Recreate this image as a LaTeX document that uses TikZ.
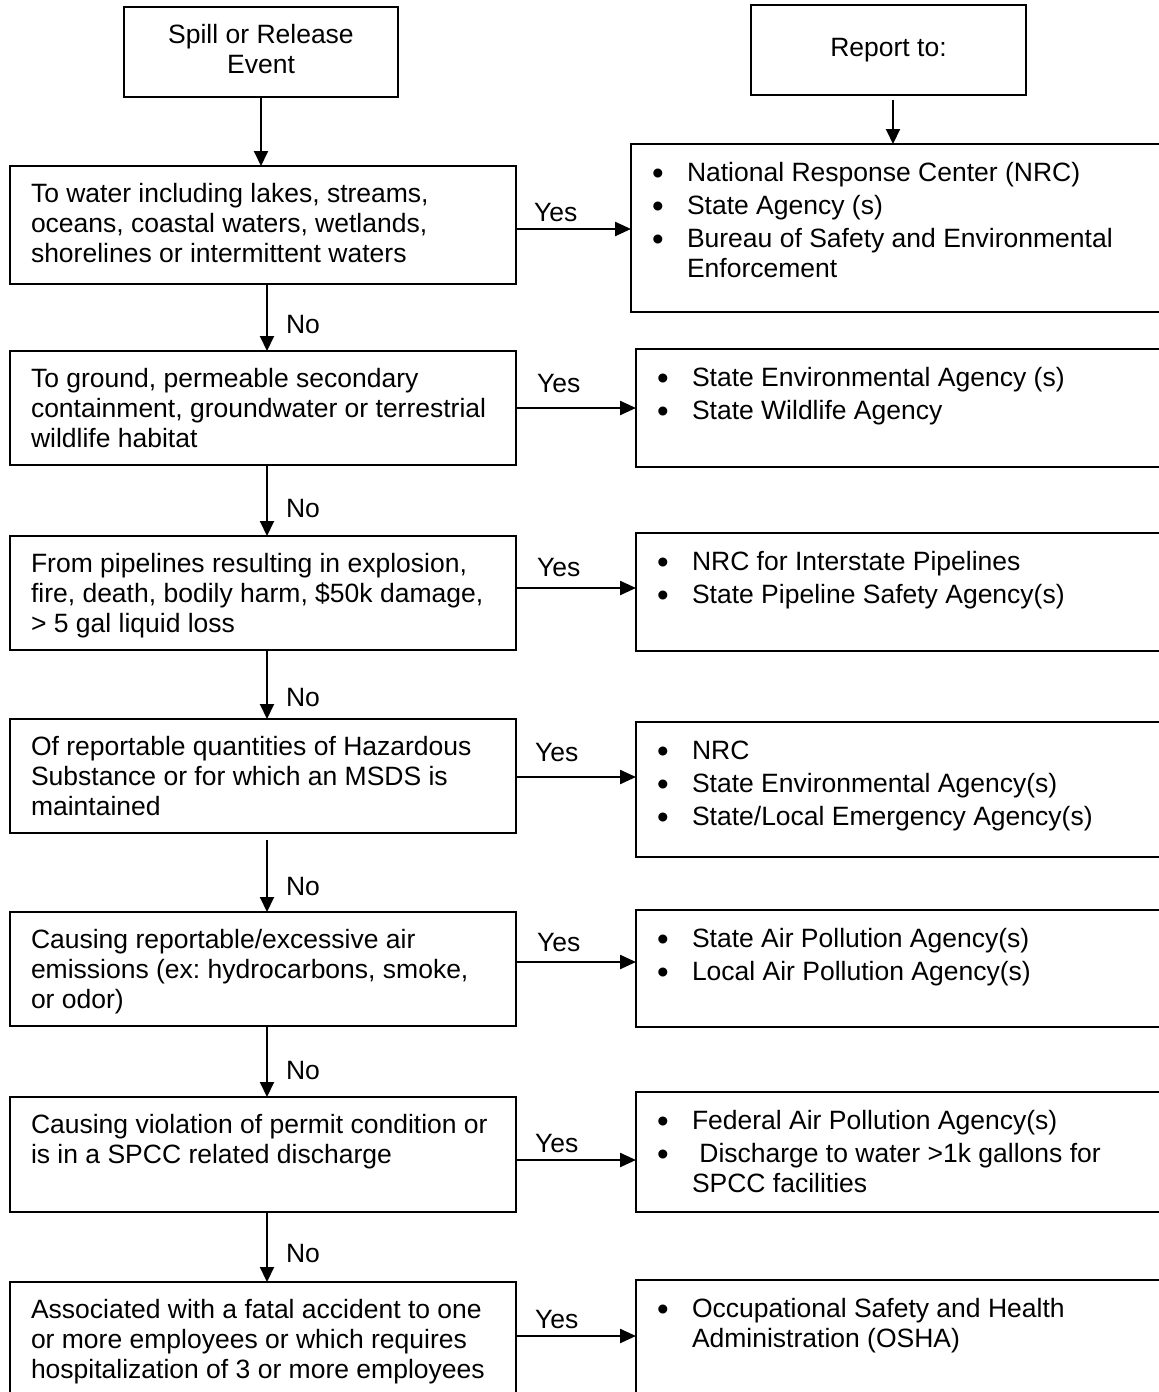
\documentclass[tikz,border=0pt]{standalone}
\usepackage{fontspec}
\setmainfont{Liberation Sans}
\usetikzlibrary{arrows.meta}
\frenchspacing

% body of a question box: fixed height, text hung from the top
\newcommand\qbody[2]{\parbox[t][#1pt][t]{506pt}{\vspace*{15pt}\leftskip=21pt\rightskip=0pt plus 1fil\hbadness=10000\strut #2\par}}
% body of a reporting box: a bulleted list with hanging lines
\newcommand\rbody[2]{\parbox[t][#1pt][t]{540pt}{\vspace*{13pt}\leftskip=21pt\rightskip=0pt plus 1fil\hbadness=10000 #2\par}}
\newcommand\blt{\par\vspace{3pt}\hangindent=35pt\hangafter=1\noindent\strut\makebox[35pt][l]{\raisebox{-3.5pt}{\scalebox{1.25}{\textbullet}}}}

\tikzset{
  txt/.style={font=\fontsize{26.5}{30}\selectfont},
  frame/.style={txt, draw, line width=2pt, inner sep=0pt, outer sep=0pt, anchor=north west},
  head/.style={frame, align=center},
  flow/.style={line width=2pt, -{Triangle[length=15pt,width=14pt]}},
  yesflow/.style={line width=2.4pt, -{Triangle[length=16pt,width=14pt]}},
  lbl/.style={txt, inner sep=0pt, anchor=base west},
}

\begin{document}
\begin{tikzpicture}[x=1pt,y=-1pt]
\useasboundingbox (0,0) rectangle (1159,1392);
\clip (0,0) rectangle (1159,1392);

% headings
\node[head, minimum width=274pt, minimum height=90pt] (spill) at (124,7) {Spill or Release\\Event\\[-24pt]};
\node[head, minimum width=275pt, minimum height=90pt] (report) at (751,5) {Report to:};

% questions
\node[frame] (q1) at (10,166)  {\qbody{118}{To water including lakes, streams,\\oceans, coastal waters, wetlands,\\shorelines or intermittent waters}};
\node[frame] (q2) at (10,351)  {\qbody{114}{To ground, permeable secondary\\containment, groundwater or terrestrial\\wildlife habitat}};
\node[frame] (q3) at (10,536)  {\qbody{114}{From pipelines resulting in explosion,\\fire, death, bodily harm, \$50k damage,\\> 5 gal liquid loss}};
\node[frame] (q4) at (10,719)  {\qbody{114}{Of reportable quantities of Hazardous\\Substance or for which an MSDS is\\maintained}};
\node[frame] (q5) at (10,912)  {\qbody{114}{Causing reportable/excessive air\\emissions (ex: hydrocarbons, smoke,\\or odor)}};
\node[frame] (q6) at (10,1097) {\qbody{115}{Causing violation of permit condition or\\is in a SPCC related discharge}};
\node[frame] (q7) at (10,1282) {\qbody{130}{Associated with a fatal accident to one\\or more employees or which requires\\hospitalization of 3 or more employees}};

% agencies to notify
\node[frame] (r1) at (631,144)  {\rbody{168}{\blt National Response Center (NRC)\blt State Agency (s)\blt Bureau of Safety and Environmental\\Enforcement}};
\node[frame] (r2) at (636,349)  {\rbody{118}{\blt State Environmental Agency (s)\blt State Wildlife Agency}};
\node[frame] (r3) at (636,533)  {\rbody{118}{\blt NRC for Interstate Pipelines\blt State Pipeline Safety Agency(s)}};
\node[frame] (r4) at (636,722)  {\rbody{135}{\blt NRC\blt State Environmental Agency(s)\blt State/Local Emergency Agency(s)}};
\node[frame] (r5) at (636,910)  {\rbody{117}{\blt State Air Pollution Agency(s)\blt Local Air Pollution Agency(s)}};
\node[frame] (r6) at (636,1092) {\rbody{120}{\blt Federal Air Pollution Agency(s)\blt\ Discharge to water >1k gallons for\\SPCC facilities}};
\node[frame] (r7) at (636,1280) {\rbody{130}{\blt Occupational Safety and Health\\Administration (OSHA)}};

% levels of the Yes branches
\coordinate (lane1) at (0,229);
\coordinate (lane2) at (0,408);
\coordinate (lane3) at (0,588);
\coordinate (lane4) at (0,777);
\coordinate (lane5) at (0,962);
\coordinate (lane6) at (0,1160);
\coordinate (lane7) at (0,1336);

% main flow
\draw[flow] (spill.south) -- (spill.south |- q1.north);
\draw[flow] ([xshift=4.5pt,yshift=-5pt]report.south) -- ([xshift=4.5pt]report.south |- r1.north);

\draw[flow] ([xshift=4pt]q1.south) -- ([xshift=4pt]q2.north) node[lbl, xshift=18pt, yshift=18pt] {No};
\draw[flow] ([xshift=4pt]q2.south) -- ([xshift=4pt]q3.north) node[lbl, xshift=18pt, yshift=19pt] {No};
\draw[flow] ([xshift=4pt]q3.south) -- ([xshift=4pt]q4.north) node[lbl, xshift=18pt, yshift=13pt] {No};
\draw[flow] ([xshift=4pt,yshift=-7pt]q4.south) -- ([xshift=4pt]q5.north) node[lbl, xshift=18pt, yshift=17pt] {No};
\draw[flow] ([xshift=4pt]q5.south) -- ([xshift=4pt]q6.north) node[lbl, xshift=18pt, yshift=18pt] {No};
\draw[flow] ([xshift=4pt]q6.south) -- ([xshift=4pt]q7.north) node[lbl, xshift=18pt, yshift=20pt] {No};

% Yes branches
\draw[yesflow] (q1.east |- lane1) -- node[lbl, pos=0, xshift=17pt, yshift=8pt] {Yes} (r1.west |- lane1);
\draw[yesflow] (q2.east |- lane2) -- node[lbl, pos=0, xshift=20pt, yshift=16pt] {Yes} (r2.west |- lane2);
\draw[yesflow] (q3.east |- lane3) -- node[lbl, pos=0, xshift=20pt, yshift=12pt] {Yes} (r3.west |- lane3);
\draw[yesflow] (q4.east |- lane4) -- node[lbl, pos=0, xshift=18pt, yshift=16pt] {Yes} (r4.west |- lane4);
\draw[yesflow] (q5.east |- lane5) -- node[lbl, pos=0, xshift=20pt, yshift=11pt] {Yes} (r5.west |- lane5);
\draw[yesflow] (q6.east |- lane6) -- node[lbl, pos=0, xshift=18pt, yshift=8pt] {Yes} (r6.west |- lane6);
\draw[yesflow] (q7.east |- lane7) -- node[lbl, pos=0, xshift=18pt, yshift=8pt] {Yes} (r7.west |- lane7);
\end{tikzpicture}
\end{document}
